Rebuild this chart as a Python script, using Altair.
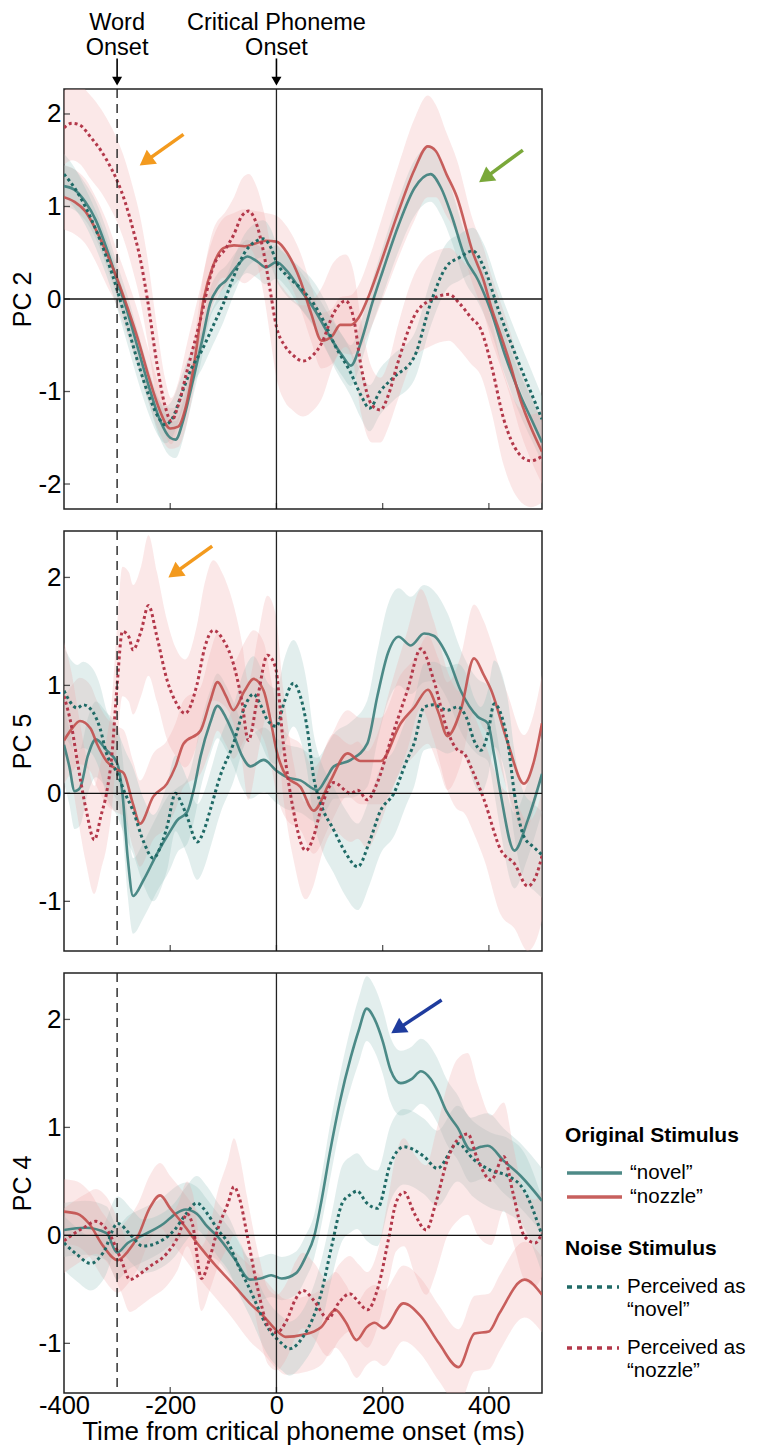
import altair as alt
import pandas as pd

FONT = "Liberation Sans"

# ---------------- shared axis data ----------------
X_LABELS = [-400, -200, 0, 200, 400]
TIME_TICKS = [-200, 0, 200, 400]
ONSETS = [-300, 0]
ONSET_NAMES = ["Word\nOnset", "Critical Phoneme\nOnset"]
ZERO = [0]
PC2_DOMAIN = [-2.27, 2.27]
PC5_DOMAIN = [-1.46, 2.43]
PC4_DOMAIN = [-1.46, 2.43]
PC2_TICKS = [-2, -1, 0, 1, 2]
PC5_TICKS = [-1, 0, 1, 2]
PC4_TICKS = [-1, 0, 1, 2]

ORIG_LABELS = ["\u201cnovel\u201d", "\u201cnozzle\u201d"]
NOISE_LABELS = ["Perceived as|\u201cnovel\u201d", "Perceived as|\u201cnozzle\u201d"]

# ---------------- PC 2 ----------------
pc2_on_t = [-400,-380,-360,-340,-320,-300,-280,-260,-240,-220,-200,-190,-175,-160,-140,-125,-110,-95,-75,-55,-35,-20,0,20,45,70,100,125,140,160,180,200,230,260,290,310,330,355,380,405,430,460,480,500]
pc2_on_v = [1.22,1.18,1.05,0.85,0.55,0.2,-0.15,-0.55,-0.95,-1.3,-1.5,-1.52,-1.3,-0.95,-0.45,-0.05,0.12,0.2,0.35,0.46,0.4,0.34,0.4,0.3,0.1,-0.1,-0.4,-0.62,-0.72,-0.45,-0.05,0.3,0.8,1.2,1.35,1.2,0.9,0.45,0.2,-0.15,-0.6,-1.05,-1.3,-1.55]
pc2_on_w = [0.22,0.22,0.2,0.2,0.2,0.18,0.18,0.18,0.18,0.2,0.2,0.2,0.2,0.18,0.18,0.16,0.16,0.16,0.17,0.18,0.18,0.18,0.18,0.18,0.2,0.2,0.22,0.22,0.22,0.22,0.24,0.26,0.28,0.3,0.3,0.3,0.28,0.26,0.24,0.22,0.22,0.22,0.22,0.22]

pc2_oz_t = [-400,-380,-360,-340,-320,-300,-280,-260,-240,-220,-200,-185,-170,-155,-137,-120,-100,-80,-60,-40,-20,0,20,45,65,85,105,120,140,155,175,200,230,260,285,300,320,340,370,390,405,420,440,460,480,500]
pc2_oz_v = [1.1,1.05,0.95,0.75,0.5,0.22,-0.1,-0.45,-0.85,-1.2,-1.4,-1.38,-1.15,-0.7,0.0,0.35,0.55,0.58,0.57,0.6,0.63,0.62,0.5,0.2,-0.15,-0.45,-0.4,-0.28,-0.28,-0.2,0.05,0.45,0.95,1.4,1.65,1.6,1.35,1.1,0.5,0.2,-0.1,-0.35,-0.7,-1.1,-1.4,-1.65]
pc2_oz_w = [0.35,0.35,0.35,0.35,0.35,0.3,0.3,0.3,0.28,0.25,0.22,0.22,0.22,0.25,0.28,0.3,0.32,0.35,0.4,0.35,0.3,0.28,0.28,0.3,0.3,0.3,0.3,0.3,0.32,0.35,0.4,0.45,0.5,0.55,0.55,0.5,0.45,0.4,0.35,0.35,0.35,0.35,0.35,0.35,0.35,0.35]

pc2_pn_t = [-400,-380,-360,-340,-320,-300,-280,-260,-240,-220,-210,-195,-180,-160,-140,-120,-100,-80,-60,-40,-25,-10,0,20,45,70,90,110,140,160,175,195,220,260,290,320,345,370,390,420,450,475,500]
pc2_pn_v = [1.35,1.2,1.0,0.75,0.45,0.1,-0.3,-0.7,-1.05,-1.3,-1.36,-1.28,-1.05,-0.75,-0.55,-0.3,-0.05,0.25,0.5,0.62,0.65,0.55,0.4,0.25,0.12,-0.05,-0.25,-0.5,-0.8,-1.05,-1.18,-1.0,-0.85,-0.62,-0.05,0.35,0.45,0.52,0.35,-0.15,-0.6,-0.95,-1.3]
pc2_pn_w = [0.22,0.22,0.2,0.2,0.2,0.2,0.2,0.2,0.2,0.2,0.2,0.2,0.2,0.2,0.2,0.2,0.2,0.2,0.2,0.2,0.2,0.2,0.2,0.22,0.22,0.24,0.25,0.25,0.25,0.25,0.25,0.25,0.25,0.25,0.25,0.25,0.25,0.25,0.25,0.25,0.25,0.25,0.25]

pc2_pz_t = [-400,-385,-370,-350,-330,-310,-300,-285,-270,-257,-243,-225,-210,-198,-185,-168,-143,-119,-95,-80,-65,-52,-40,-24,-12,0,15,30,50,70,85,108,130,145,160,180,196,210,228,259,290,325,345,366,385,404,428,455,479,500]
pc2_pz_v = [1.85,1.9,1.88,1.75,1.6,1.4,1.28,1.05,0.75,0.45,0.0,-0.7,-1.15,-1.32,-1.15,-0.77,-0.22,0.35,0.55,0.7,0.9,0.95,0.85,0.5,0.1,-0.3,-0.5,-0.6,-0.67,-0.6,-0.48,-0.15,-0.02,-0.2,-0.75,-1.15,-1.2,-1.05,-0.7,-0.19,-0.01,0.05,-0.05,-0.2,-0.33,-0.7,-1.3,-1.66,-1.75,-1.7]
pc2_pz_w = [0.4,0.4,0.42,0.45,0.45,0.45,0.45,0.45,0.45,0.45,0.45,0.4,0.3,0.25,0.25,0.3,0.35,0.4,0.4,0.4,0.4,0.4,0.4,0.45,0.5,0.55,0.6,0.6,0.6,0.6,0.6,0.55,0.5,0.5,0.5,0.4,0.35,0.35,0.4,0.45,0.5,0.5,0.5,0.5,0.5,0.5,0.5,0.5,0.5,0.5]

# ---------------- PC 5 ----------------
pc5_on_t = [-400,-390,-380,-370,-355,-340,-320,-300,-290,-280,-270,-250,-225,-200,-187,-168,-155,-143,-125,-111,-95,-81,-65,-49,-24,0,20,45,77,95,108,140,171,190,210,230,253,278,296,322,347,379,398,410,422,448,473,500]
pc5_on_v = [0.45,0.25,0.02,0.05,0.35,0.5,0.4,0.28,0.0,-0.6,-0.95,-0.8,-0.56,-0.35,-0.25,-0.17,0.05,0.34,0.65,0.81,0.7,0.55,0.35,0.25,0.31,0.21,0.15,0.12,0.03,0.15,0.25,0.31,0.46,0.9,1.3,1.45,1.37,1.48,1.46,1.27,0.95,0.71,0.65,0.35,0.0,-0.53,-0.25,0.18]
pc5_on_w = [0.35,0.35,0.35,0.35,0.35,0.35,0.35,0.35,0.35,0.35,0.35,0.35,0.35,0.35,0.3,0.3,0.3,0.3,0.3,0.3,0.3,0.3,0.3,0.3,0.3,0.3,0.3,0.3,0.3,0.3,0.3,0.35,0.4,0.42,0.45,0.45,0.45,0.45,0.42,0.4,0.38,0.35,0.35,0.35,0.35,0.35,0.35,0.35]

pc5_oz_t = [-400,-385,-370,-350,-338,-320,-300,-288,-270,-257,-232,-206,-190,-175,-143,-125,-111,-95,-81,-60,-43,-24,-10,0,20,45,70,100,134,158,196,234,260,285,305,322,347,372,390,404,436,466,485,500]
pc5_oz_v = [0.49,0.6,0.67,0.6,0.46,0.3,0.22,0.19,-0.1,-0.28,-0.03,0.09,0.25,0.46,0.58,0.85,1.03,0.9,0.77,0.95,1.06,0.95,0.65,0.4,0.15,0.06,-0.16,0.1,0.37,0.3,0.3,0.65,0.8,0.96,0.75,0.53,0.77,1.25,1.1,0.96,0.46,0.09,0.3,0.65]
pc5_oz_w = [0.4,0.4,0.4,0.4,0.4,0.4,0.4,0.4,0.4,0.4,0.4,0.4,0.4,0.4,0.4,0.45,0.45,0.45,0.45,0.45,0.45,0.45,0.4,0.4,0.4,0.4,0.4,0.4,0.4,0.4,0.4,0.45,0.45,0.5,0.5,0.5,0.5,0.5,0.5,0.45,0.45,0.45,0.45,0.45]

pc5_pn_t = [-400,-375,-364,-345,-332,-320,-300,-285,-270,-250,-232,-215,-206,-190,-178,-168,-149,-137,-125,-106,-81,-60,-43,-30,-17,0,15,32,45,58,70,83,108,130,153,175,196,221,245,259,278,296,322,341,358,372,385,398,410,425,436,448,466,485,500]
pc5_pn_v = [0.95,0.79,0.82,0.75,0.6,0.37,0.19,0.0,-0.16,-0.45,-0.6,-0.45,-0.31,0.0,-0.1,-0.22,-0.45,-0.35,-0.16,0.16,0.46,0.8,0.92,0.82,0.68,0.62,0.85,1.02,0.9,0.6,0.15,-0.09,-0.34,-0.55,-0.68,-0.45,-0.16,0.0,0.3,0.46,0.8,0.82,0.77,0.8,0.7,0.49,0.4,0.55,0.83,0.7,0.46,0.0,-0.4,-0.5,-0.57]
pc5_pn_w = [0.4,0.4,0.4,0.4,0.4,0.4,0.4,0.4,0.4,0.4,0.4,0.4,0.4,0.35,0.35,0.35,0.35,0.35,0.35,0.35,0.35,0.35,0.35,0.35,0.35,0.35,0.4,0.4,0.4,0.4,0.4,0.4,0.4,0.4,0.4,0.4,0.4,0.4,0.4,0.4,0.4,0.4,0.4,0.4,0.4,0.4,0.4,0.4,0.4,0.4,0.4,0.4,0.4,0.4,0.4]

pc5_pz_t = [-400,-385,-375,-358,-343,-330,-320,-310,-300,-290,-278,-270,-255,-241,-225,-206,-190,-172,-150,-135,-119,-100,-81,-65,-53,-35,-17,-2,13,32,55,70,83,108,140,153,171,190,215,247,272,296,322,341,353,370,391,423,448,473,490,500]
pc5_pz_v = [0.9,0.6,0.3,-0.16,-0.43,-0.2,0.0,0.35,1.0,1.5,1.45,1.33,1.5,1.74,1.45,1.05,0.85,0.74,1.0,1.35,1.51,1.42,1.2,0.85,0.49,0.9,1.28,1.17,0.46,-0.16,-0.53,-0.4,-0.16,0.1,0.0,0.03,-0.06,0.1,0.49,0.96,1.34,1.05,0.58,0.4,0.37,0.2,-0.06,-0.53,-0.65,-0.86,-0.75,-0.58]
pc5_pz_w = [0.5,0.5,0.5,0.5,0.5,0.5,0.5,0.5,0.55,0.6,0.6,0.6,0.6,0.65,0.6,0.55,0.5,0.5,0.55,0.6,0.65,0.6,0.55,0.55,0.55,0.55,0.55,0.5,0.5,0.45,0.45,0.45,0.45,0.45,0.45,0.45,0.45,0.45,0.5,0.55,0.55,0.55,0.55,0.55,0.55,0.55,0.55,0.6,0.6,0.6,0.6,0.6]

# ---------------- PC 4 ----------------
pc4_on_t = [-400,-360,-320,-300,-280,-252,-212,-190,-171,-150,-130,-111,-77,-50,-30,-10,10,37,55,71,84,100,120,140,155,170,185,200,215,234,255,272,290,303,320,341,366,385,398,428,460,500]
pc4_on_v = [0.05,0.07,0.02,-0.16,-0.07,0.0,0.11,0.2,0.24,0.2,0.08,-0.01,-0.23,-0.41,-0.4,-0.37,-0.4,-0.35,-0.2,-0.01,0.3,0.75,1.25,1.65,1.9,2.1,2.0,1.8,1.53,1.41,1.45,1.52,1.45,1.34,1.15,1.0,0.79,0.82,0.83,0.69,0.55,0.32]
pc4_on_w = [0.25,0.25,0.25,0.25,0.25,0.25,0.25,0.25,0.25,0.25,0.25,0.22,0.22,0.2,0.2,0.2,0.2,0.2,0.2,0.2,0.22,0.25,0.25,0.28,0.3,0.3,0.3,0.3,0.3,0.3,0.3,0.3,0.3,0.3,0.3,0.3,0.3,0.3,0.3,0.3,0.3,0.3]

pc4_oz_t = [-400,-375,-353,-326,-299,-280,-260,-239,-219,-200,-175,-145,-118,-84,-50,-24,0,17,50,84,111,130,151,170,185,202,239,272,306,343,373,400,420,467,500]
pc4_oz_v = [0.22,0.2,0.11,-0.1,-0.23,-0.15,0.0,0.25,0.37,0.25,0.1,-0.1,-0.26,-0.44,-0.63,-0.75,-0.88,-0.94,-0.92,-0.85,-0.69,-0.8,-0.97,-0.85,-0.81,-0.86,-0.63,-0.75,-1.0,-1.22,-0.91,-0.89,-0.72,-0.41,-0.55]
pc4_oz_w = [0.3,0.3,0.3,0.3,0.3,0.3,0.3,0.3,0.3,0.3,0.3,0.3,0.3,0.32,0.35,0.35,0.35,0.35,0.35,0.35,0.35,0.35,0.35,0.35,0.35,0.35,0.35,0.35,0.35,0.35,0.35,0.35,0.35,0.35,0.35]

pc4_pn_t = [-400,-375,-350,-326,-299,-272,-252,-225,-192,-170,-150,-130,-110,-91,-70,-50,-17,10,24,50,84,104,124,140,152,170,190,215,240,278,303,341,372,404,436,466,500]
pc4_pn_v = [-0.07,-0.18,-0.26,-0.16,0.11,-0.01,-0.1,-0.07,0.05,0.2,0.3,0.2,0.05,-0.07,-0.3,-0.5,-0.85,-1.0,-1.05,-0.94,-0.54,-0.1,0.3,0.38,0.41,0.3,0.25,0.67,0.82,0.73,0.62,0.85,0.7,0.6,0.55,0.42,0.0]
pc4_pn_w = [0.25,0.25,0.25,0.25,0.25,0.25,0.25,0.25,0.25,0.25,0.25,0.25,0.25,0.25,0.25,0.25,0.25,0.25,0.25,0.25,0.3,0.3,0.35,0.35,0.35,0.35,0.35,0.35,0.35,0.35,0.35,0.35,0.35,0.35,0.35,0.35,0.35]

pc4_pz_t = [-400,-380,-360,-340,-319,-292,-276,-255,-239,-205,-185,-168,-158,-141,-125,-111,-91,-80,-70,-55,-35,-15,0,20,35,50,70,97,118,138,155,171,192,212,225,240,260,282,300,322,340,360,379,404,428,445,467,487,500]
pc4_pz_v = [-0.05,0.02,0.08,0.13,0.05,-0.23,-0.41,-0.35,-0.29,-0.16,-0.01,0.2,0.1,-0.4,-0.2,0.05,0.3,0.45,0.35,0.0,-0.5,-0.85,-0.9,-0.78,-0.6,-0.51,-0.6,-0.77,-0.62,-0.54,-0.62,-0.69,-0.47,-0.01,0.3,0.4,0.2,0.05,0.3,0.7,0.88,0.94,0.7,0.51,0.73,0.4,-0.01,-0.07,0.02]
pc4_pz_w = [0.3,0.3,0.3,0.3,0.3,0.3,0.3,0.3,0.3,0.3,0.3,0.3,0.3,0.3,0.3,0.35,0.4,0.45,0.4,0.35,0.35,0.35,0.35,0.35,0.35,0.35,0.35,0.35,0.35,0.35,0.35,0.35,0.35,0.4,0.45,0.5,0.55,0.6,0.65,0.7,0.75,0.75,0.7,0.6,0.5,0.45,0.4,0.4,0.4]

# ---------------- annotation arrows (tail t, tail v, head t, head v, colour, angle) ----------------
pc2_arrows = [(-175, 1.78, -246, 1.49, "#f39a1e", 234), (464, 1.61, 393, 1.31, "#7aa83a", 234)]
pc5_arrows = [(-121, 2.29, -192, 2.04, "#f39a1e", 234)]
pc4_arrows = [(311, 2.18, 228, 1.91, "#1f3c9e", 237)]
NOTE_V = 2.85
ONSET_ARROW_V = [2.6, 2.38, 2.355]

# ---------------- colours ----------------
TEAL_SOLID = "#3b7e7b"
RED_SOLID = "#c24f4c"
TEAL_DOT = "#1f6a66"
RED_DOT = "#b3384a"
BAND_TEAL = "#8fbdb9"
BAND_RED = "#eea5a5"

W, H = 478, 420
LEGEND_LINE = "M-1,0H4"


def build(rows_spec):
    rows = []
    for key, grp, kind, label, t, v, w in rows_spec:
        for ti, vi, wi in zip(t, v, w):
            rows.append({"series": key, "grp": grp, "kind": kind, "label": label,
                         "t": ti, "v": vi, "lo": vi - wi, "hi": vi + wi})
    return pd.DataFrame(rows)


def panel(df, ydom, yticks, ytitle, bottom, arrows, notes, legends):
    xs = alt.Scale(domain=[-400, 500], nice=False, zero=False)
    ys = alt.Scale(domain=ydom, nice=False, zero=False)
    if bottom:
        xax = alt.Axis(values=X_LABELS, labelExpr="'' + datum.value", ticks=False, domain=False,
                       grid=False, labelFontSize=25.5, titleFontSize=26, labelPadding=0,
                       titlePadding=0, labelFlush=False, titleFontWeight="normal")

        def X(f):
            return alt.X(f + ":Q", scale=xs, axis=xax, title="Time from critical phoneme onset (ms)")
    else:
        def X(f):
            return alt.X(f + ":Q", scale=xs, axis=None)
    yax = alt.Axis(values=yticks, labelExpr="'' + datum.value", ticks=False, domain=False,
                   grid=False, labelFontSize=26, titleFontSize=25, labelPadding=3,
                   titlePadding=2, titleFontWeight="normal")

    def Y(f):
        return alt.Y(f + ":Q", scale=ys, axis=yax, title=ytitle)

    if legends:
        leg1 = alt.Legend(title="Original Stimulus", orient="none", legendX=501, legendY=152,
                          symbolType=LEGEND_LINE, symbolSize=484, symbolStrokeWidth=3.5,
                          labelFontSize=20.5, titleFontSize=21, titleFontWeight="bold",
                          titlePadding=14, rowPadding=-1, labelOffset=39, padding=0,
                          labelBaseline="middle")
        leg2 = alt.Legend(title="Noise Stimulus", orient="none", legendX=501, legendY=265,
                          symbolType="stroke", symbolSize=2704, symbolStrokeWidth=3.5,
                          symbolDash=[5, 5], labelExpr="split(datum.label, '|')",
                          labelFontSize=20.5, titleFontSize=21, titleFontWeight="bold",
                          titlePadding=0, rowPadding=-11, labelOffset=6, padding=0,
                          labelBaseline="middle")
    else:
        leg1 = None
        leg2 = None

    base = alt.Chart(df)
    bands = base.mark_area(clip=True, opacity=0.26, interpolate="monotone").encode(
        x=X("t"), y=Y("lo"), y2=alt.Y2("hi:Q"),
        fill=alt.Fill("grp:N", scale=alt.Scale(domain=["teal", "red"], range=[BAND_TEAL, BAND_RED]), legend=None),
        detail="series:N",
    )
    solid = base.transform_filter("datum.kind == 'orig'").mark_line(
        clip=True, strokeWidth=2.6, interpolate="monotone", opacity=0.9).encode(
        x=X("t"), y=Y("v"),
        color=alt.Color("label:N", scale=alt.Scale(domain=ORIG_LABELS, range=[TEAL_SOLID, RED_SOLID]), legend=leg1),
    )
    dotted = base.transform_filter("datum.kind == 'noise'").mark_line(
        clip=True, strokeWidth=3, strokeDash=[3, 3], strokeCap="butt", interpolate="monotone").encode(
        x=X("t"), y=Y("v"),
        stroke=alt.Stroke("label:N", scale=alt.Scale(domain=NOISE_LABELS, range=[TEAL_DOT, RED_DOT]), legend=leg2),
    )
    zero = alt.Chart(pd.DataFrame({"y0": ZERO})).mark_rule(color="#111", strokeWidth=1.4).encode(y=Y("y0"))
    word = alt.Chart(pd.DataFrame({"x0": [ONSETS[0]]})).mark_rule(
        color="#222", strokeWidth=1.4, strokeDash=[9, 6]).encode(x=X("x0"))
    phon = alt.Chart(pd.DataFrame({"x0": [ONSETS[1]]})).mark_rule(
        color="#222", strokeWidth=1.3).encode(x=X("x0"))
    xt = alt.Chart(pd.DataFrame({"tt": TIME_TICKS})).mark_tick(
        orient="vertical", size=6, thickness=1.3, color="#111").encode(x=X("tt"), y=alt.value(H - 3))
    yt = alt.Chart(pd.DataFrame({"yy": yticks})).mark_tick(
        orient="horizontal", size=6, thickness=1.3, color="#111").encode(y=Y("yy"), x=alt.value(3))

    layers = [bands, solid, dotted, zero, word, phon, xt, yt]
    for (t0, v0, t1, v1, col, ang) in arrows:
        adf = pd.DataFrame({"t0": [t0], "v0": [v0], "t1": [t1], "v1": [v1]})
        layers.append(alt.Chart(adf).mark_rule(color=col, strokeWidth=3.5).encode(
            x=X("t0"), y=Y("v0"), x2=alt.X2("t1:Q"), y2=alt.Y2("v1:Q")))
        layers.append(alt.Chart(adf).mark_point(shape="triangle-up", filled=True, size=300,
                                                 angle=ang, color=col, opacity=1).encode(
            x=X("t1"), y=Y("v1")))
    if notes:
        ndf = pd.DataFrame({"t": ONSETS, "txt": ONSET_NAMES, "v": [NOTE_V, NOTE_V],
                            "a0": [ONSET_ARROW_V[0]] * 2, "a1": [ONSET_ARROW_V[1]] * 2,
                            "a2": [ONSET_ARROW_V[2]] * 2})
        layers.append(alt.Chart(ndf).mark_text(fontSize=23.5, baseline="bottom", lineBreak="\n",
                                               lineHeight=24.5, color="black").encode(
            x=X("t"), y=Y("v"), text="txt:N"))
        layers.append(alt.Chart(ndf).mark_rule(color="black", strokeWidth=1.6).encode(
            x=X("t"), y=Y("a0"), y2=alt.Y2("a1:Q")))
        layers.append(alt.Chart(ndf).mark_point(shape="triangle-down", filled=True, size=100,
                                                 color="black", opacity=1).encode(
            x=X("t"), y=Y("a2")))
    return alt.layer(*layers).properties(width=W, height=H)


def spec(prefix, g):
    return [
        (prefix + "on", "teal", "orig", ORIG_LABELS[0], *g["on"]),
        (prefix + "oz", "red", "orig", ORIG_LABELS[1], *g["oz"]),
        (prefix + "pn", "teal", "noise", NOISE_LABELS[0], *g["pn"]),
        (prefix + "pz", "red", "noise", NOISE_LABELS[1], *g["pz"]),
    ]


df2 = build(spec("pc2", {"on": (pc2_on_t, pc2_on_v, pc2_on_w), "oz": (pc2_oz_t, pc2_oz_v, pc2_oz_w),
                         "pn": (pc2_pn_t, pc2_pn_v, pc2_pn_w), "pz": (pc2_pz_t, pc2_pz_v, pc2_pz_w)}))
df5 = build(spec("pc5", {"on": (pc5_on_t, pc5_on_v, pc5_on_w), "oz": (pc5_oz_t, pc5_oz_v, pc5_oz_w),
                         "pn": (pc5_pn_t, pc5_pn_v, pc5_pn_w), "pz": (pc5_pz_t, pc5_pz_v, pc5_pz_w)}))
df4 = build(spec("pc4", {"on": (pc4_on_t, pc4_on_v, pc4_on_w), "oz": (pc4_oz_t, pc4_oz_v, pc4_oz_w),
                         "pn": (pc4_pn_t, pc4_pn_v, pc4_pn_w), "pz": (pc4_pz_t, pc4_pz_v, pc4_pz_w)}))

p2 = panel(df2, PC2_DOMAIN, PC2_TICKS, "PC 2", False, pc2_arrows, True, False)
p5 = panel(df5, PC5_DOMAIN, PC5_TICKS, "PC 5", False, pc5_arrows, False, False)
p4 = panel(df4, PC4_DOMAIN, PC4_TICKS, "PC 4", True, pc4_arrows, False, True)

chart = alt.vconcat(p2, p5, p4, spacing=18).resolve_scale(
    color="independent", stroke="independent", fill="independent"
).configure(font=FONT, padding={"left": 2, "top": 2, "right": 0, "bottom": 0}).configure_view(
    stroke="#222", strokeWidth=1.5
).configure_axis(labelColor="black", titleColor="black").configure_legend(
    labelColor="black", titleColor="black"
)

chart.save("out.html", embed_options={"renderer": "svg", "actions": False})
